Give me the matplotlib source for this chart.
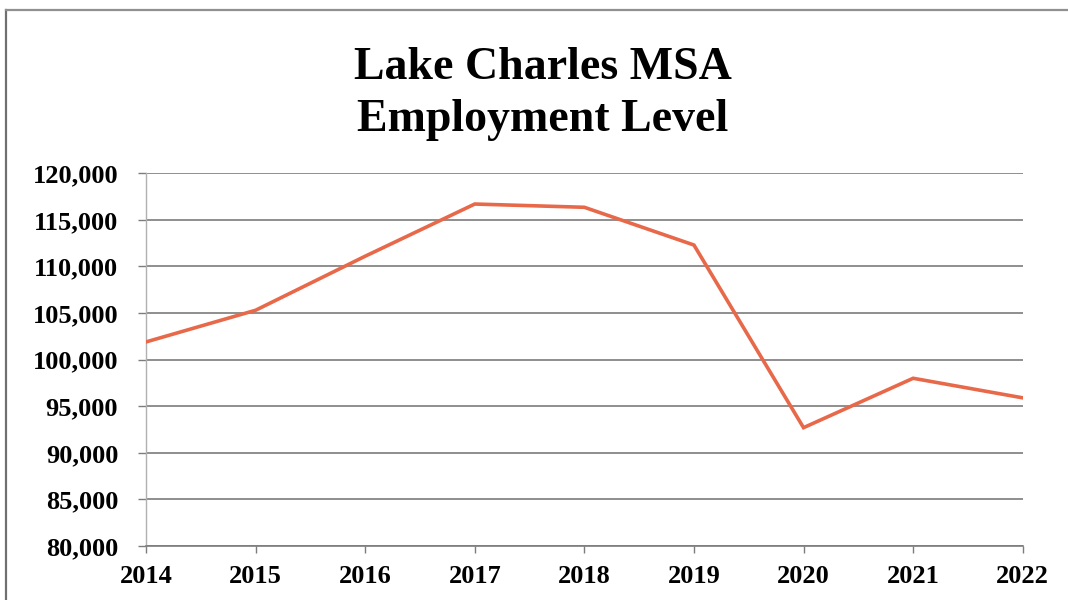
import matplotlib.pyplot as plt
from matplotlib.lines import Line2D
from matplotlib.ticker import FuncFormatter

# Lake Charles MSA annual employment
years = [2014, 2015, 2016, 2017, 2018, 2019, 2020, 2021, 2022]
employment = [101900, 105300, 111100, 116700, 116350, 112300, 92700, 98000, 95900]
y_ticks = list(range(80000, 120001, 5000))
title_lines = ['Lake Charles MSA', 'Employment Level']

plt.rcParams['font.family'] = ['Liberation Serif', 'DejaVu Serif']
plt.rcParams['font.weight'] = 'bold'

fig = plt.figure(figsize=(10.68, 6.0), dpi=100)
ax = fig.add_axes([0.1367, 0.09, 0.8209, 0.6212])

grid_col = '#7c7c7c'
ax.plot(years, employment, color='#e8694a', lw=2.6, solid_joinstyle='miter', zorder=3)

ax.set_xlim(years[0], years[-1])
ax.set_ylim(y_ticks[0], y_ticks[-1])
ax.set_xticks(years)
ax.set_yticks(y_ticks)
ax.yaxis.set_major_formatter(FuncFormatter(lambda v, p: f'{int(v):,}'))
ax.grid(axis='y', color=grid_col, lw=1.2)
ax.set_axisbelow(True)

for s in ['top', 'right']:
    ax.spines[s].set_visible(False)
ax.spines['left'].set_color('#b0b0b0')
ax.spines['left'].set_linewidth(1.0)
ax.spines['bottom'].set_color(grid_col)
ax.spines['bottom'].set_linewidth(1.2)

ax.tick_params(axis='y', length=6, width=1.0, color=grid_col, pad=14, labelsize=19)
ax.tick_params(axis='x', length=5, width=1.0, color=grid_col, pad=9, labelsize=19)
for lab in ax.get_xticklabels() + ax.get_yticklabels():
    lab.set_fontweight('bold')

# two-line title, baselines placed separately
for txt, base in zip(title_lines, [79, 131]):
    fig.text(543 / 1068, 1 - base / 600, txt, ha='center', va='baseline',
             fontsize=33, fontweight='bold')

# frame around the chart (open on the right and bottom)
fx, fy = 6 / 1068, 1 - 10 / 600
fig.add_artist(Line2D([fx, fx], [-0.01, fy], transform=fig.transFigure, color='#707070', lw=1.6))
fig.add_artist(Line2D([fx, 1.01], [fy, fy], transform=fig.transFigure, color='#909090', lw=1.6))

fig.savefig('out.png', dpi=100, facecolor='white')
